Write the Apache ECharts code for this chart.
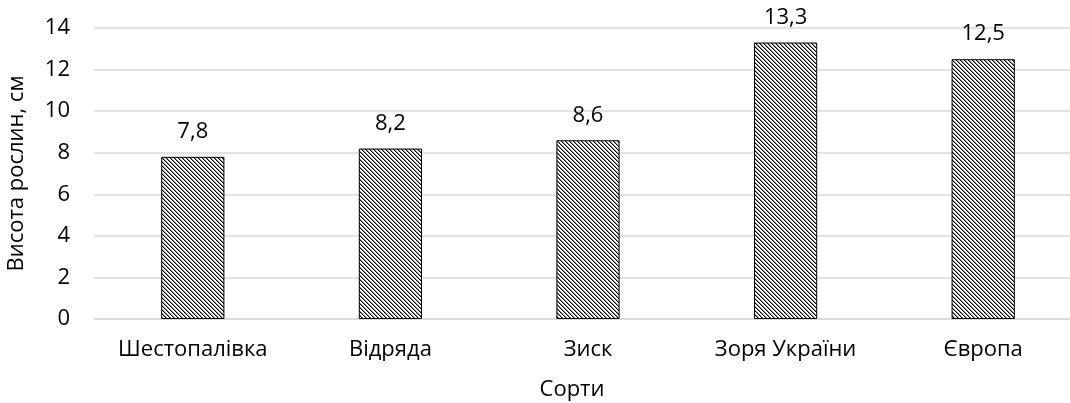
<!DOCTYPE html>
<html><head><meta charset="utf-8">
<script src="https://cdn.jsdelivr.net/npm/echarts@6/dist/echarts.min.js"></script>
<style>html,body{margin:0;padding:0;background:#fff}#c{width:1070px;height:403px}</style>
</head><body><div id="c"></div>
<script>
const categories = ['Шестопалівка', 'Відряда', 'Зиск', 'Зоря України', 'Європа'];
const values = [7.8, 8.2, 8.6, 13.3, 12.5];
const yTicks = [0, 2, 4, 6, 8, 10, 12, 14];

function hatch() {
  const c = document.createElement('canvas');
  c.width = 4; c.height = 4;
  const ctx = c.getContext('2d');
  ctx.fillStyle = '#fff'; ctx.fillRect(0, 0, 4, 4);
  for (let i = 0; i < 4; i++) {
    ctx.fillStyle = '#000'; ctx.fillRect(i, i, 1, 1);
    ctx.fillStyle = '#888'; ctx.fillRect((i + 1) % 4, i, 1, 1);
  }
  return c;
}
const font = 'Open Sans';
const fs = 22;
const chart = echarts.init(document.getElementById('c'), null, {renderer: 'canvas'});
chart.setOption({
  animation: false,
  textStyle: {fontFamily: font},
  grid: {left: 94, right: -12, top: 28, bottom: 84, outerBoundsMode: 'none', containLabel: false},
  xAxis: {
    type: 'category', data: categories,
    name: 'Сорти', nameLocation: 'middle', nameGap: 60,
    nameTextStyle: {fontSize: fs, color: '#000', fontFamily: font, padding: [0, 32, 0, 0]},
    axisLine: {lineStyle: {color: '#d9d9d9', width: 1.5}},
    axisTick: {show: false},
    axisLabel: {fontSize: fs, color: '#000', margin: 20, fontFamily: font, interval: 0, hideOverlap: false}
  },
  yAxis: {
    type: 'value', min: yTicks[0], max: yTicks[yTicks.length - 1], interval: 2,
    name: 'Висота рослин, см', nameLocation: 'middle', nameGap: 66,
    nameTextStyle: {fontSize: fs, color: '#000', fontFamily: font},
    axisLine: {show: false}, axisTick: {show: false},
    axisLabel: {fontSize: fs, color: '#000', margin: 24, fontFamily: font},
    splitLine: {lineStyle: {color: '#d9d9d9', width: 1.5}}
  },
  series: [{
    type: 'bar', data: values, barWidth: '32%',
    itemStyle: {color: {image: hatch(), repeat: 'repeat'}, borderColor: '#000', borderWidth: 1},
    label: {show: true, position: 'top', distance: 14, fontSize: fs, color: '#000', fontFamily: font,
      formatter: p => String(p.value).replace('.', ',')}
  }]
});
</script></body></html>
